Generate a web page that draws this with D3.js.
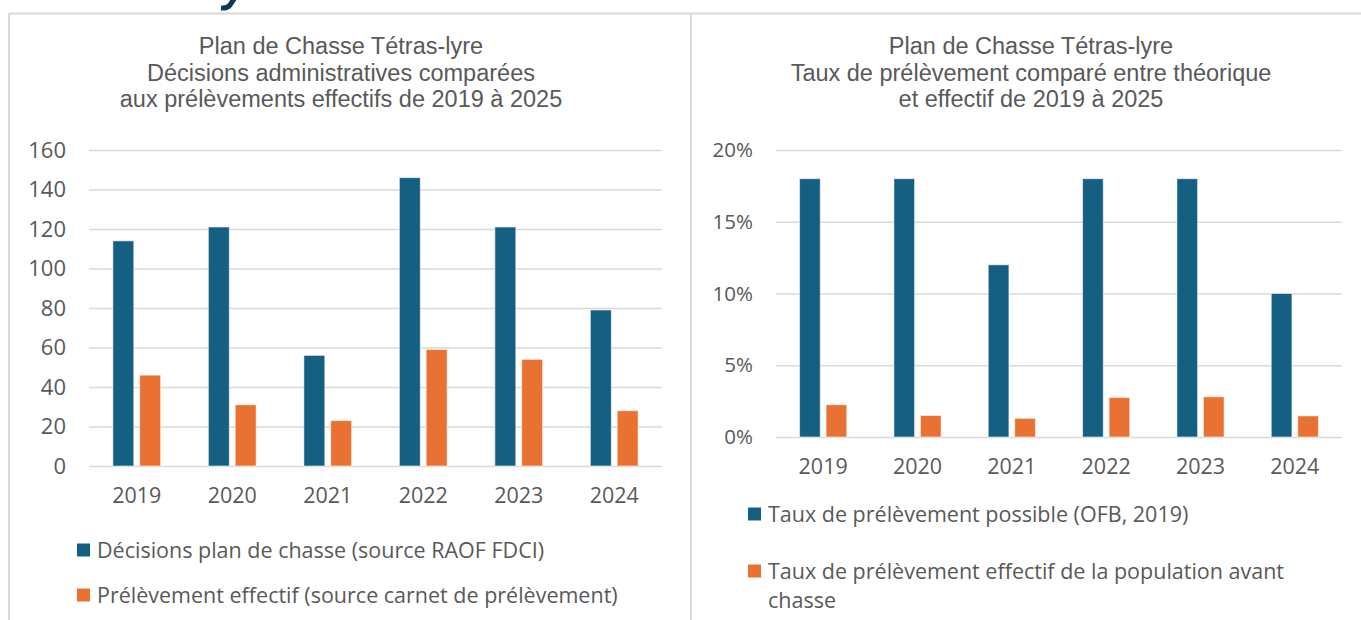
<!DOCTYPE html>
<html lang="fr">
<head>
<meta charset="utf-8">
<title>Plan de Chasse Tétras-lyre</title>
<script src="https://cdn.jsdelivr.net/npm/d3@7"></script>
<style>
  body { margin: 0; background: #fff; }
  svg { display: block; }
  .title { font-family: "Liberation Sans", Arial, sans-serif; font-size: 23.5px; fill: #595959; }
  .tick text, .lbl { font-family: "Open Sans", Roboto, sans-serif; fill: #595959; }
</style>
</head>
<body>
<script>
// --- data ---
var years = ["2019", "2020", "2021", "2022", "2023", "2024"];

var decisions = [114, 121, 56, 146, 121, 79];
var prelevements = [46, 31, 23, 59, 54, 28];

var tauxPossible = [0.18, 0.18, 0.12, 0.18, 0.18, 0.10];
var tauxEffectif = [0.0225, 0.015, 0.013, 0.0275, 0.028, 0.0147];

var leftTicks = [0, 20, 40, 60, 80, 100, 120, 140, 160];
var rightTicks = [0, 0.05, 0.10, 0.15, 0.20];

var leftTitle = ["Plan de Chasse Tétras-lyre",
                 "Décisions administratives comparées",
                 "aux prélèvements effectifs de 2019 à 2025"];
var rightTitle = ["Plan de Chasse Tétras-lyre",
                  "Taux de prélèvement comparé entre théorique",
                  "et effectif de 2019 à 2025"];

var leftSeries = ["Décisions plan de chasse (source RAOF FDCI)",
                  "Prélèvement effectif (source carnet de prélèvement)"];
var rightSeries = ["Taux de prélèvement possible (OFB, 2019)",
                   ["Taux de prélèvement effectif de la population avant", "chasse"]];

var blue = "#156082", orange = "#E97132";
var grid = "#d9d9d9";

var W = 1361, H = 620;
var svg = d3.select("body").append("svg").attr("width", W).attr("height", H);

// frame lines (panel borders)
svg.append("line").attr("x1", 9).attr("x2", W).attr("y1", 13.5).attr("y2", 13.5)
   .attr("stroke", grid).attr("stroke-width", 2);
svg.append("line").attr("x1", 9).attr("x2", 9).attr("y1", 13).attr("y2", H)
   .attr("stroke", grid).attr("stroke-width", 2);
svg.append("line").attr("x1", 691).attr("x2", 691).attr("y1", 13).attr("y2", H)
   .attr("stroke", grid).attr("stroke-width", 2);

// tail of a page heading letter cut off at the top edge
svg.append("path").attr("d", "M236,-4 L230,5 Q227,8.5 221,8")
   .attr("fill", "none").attr("stroke", "#0e3a5a").attr("stroke-width", 5);

function drawChart(o) {
  var g = svg.append("g");

  g.append("text").attr("class", "title").attr("text-anchor", "middle")
    .selectAll("tspan").data(o.title).join("tspan")
    .attr("x", o.titleX).attr("y", function (d, i) { return 54 + i * 26.5; })
    .text(function (d) { return d; });

  var y = d3.scaleLinear().domain([0, o.max]).range([o.y0, 150]);
  var x0 = d3.scaleBand().domain(years).range([o.left, o.right])
    .paddingInner(0.5).paddingOuter(0.25);
  var x1 = d3.scaleBand().domain([0, 1]).range([0, x0.bandwidth()]).paddingInner(0.22);

  // gridlines + y labels
  var yAxis = d3.axisLeft(y).tickValues(o.ticks).tickFormat(o.fmt)
    .tickSize(-(o.right - o.left)).tickPadding(o.left - o.labelRight);
  var ya = g.append("g").attr("transform", "translate(" + o.left + ",0)").call(yAxis);
  ya.select(".domain").remove();
  ya.selectAll(".tick line").attr("stroke", grid).attr("stroke-width", 1.5);
  ya.selectAll(".tick text").attr("font-size", o.yFont);

  // bars
  var rows = years.map(function (yr, i) { return { year: yr, vals: [o.a[i], o.b[i]] }; });
  var grp = g.selectAll(".grp").data(rows).join("g")
    .attr("transform", function (d) { return "translate(" + x0(d.year) + ",0)"; });
  grp.selectAll("rect").data(function (d) { return d.vals; }).join("rect")
    .attr("x", function (d, i) { return x1(i); })
    .attr("width", x1.bandwidth())
    .attr("y", function (d) { return y(d); })
    .attr("height", function (d) { return y(0) - y(d); })
    .attr("fill", function (d, i) { return i === 0 ? blue : orange; })
    .attr("stroke", "rgba(255,255,255,0.55)").attr("stroke-width", 1);

  // x labels
  var xAxis = d3.axisBottom(x0).tickSize(0).tickPadding(o.xPad);
  var xa = g.append("g").attr("transform", "translate(0," + o.y0 + ")").call(xAxis);
  xa.select(".domain").remove();
  xa.selectAll(".tick text").attr("font-size", 21.5);

  // legend
  var lg = g.selectAll(".leg").data(o.series).join("g")
    .attr("transform", function (d, i) { return "translate(" + o.legX + "," + o.legY[i] + ")"; });
  lg.append("rect").attr("x", 0).attr("y", -6.5).attr("width", 13).attr("height", 13)
    .attr("fill", function (d, i) { return i === 0 ? blue : orange; });
  lg.append("text").attr("class", "lbl").attr("font-size", 21.5)
    .selectAll("tspan").data(function (d) { return Array.isArray(d) ? d : [d]; }).join("tspan")
    .attr("x", 20).attr("y", function (d, i) { return 7.5 + i * 29; })
    .text(function (d) { return d; });
}

drawChart({
  title: leftTitle, titleX: 341,
  max: 160, ticks: leftTicks, fmt: d3.format("d"), yFont: 22,
  left: 89, right: 662, y0: 466, labelRight: 66, xPad: 22,
  a: decisions, b: prelevements,
  series: leftSeries, legX: 77, legY: [550, 595]
});

drawChart({
  title: rightTitle, titleX: 1031,
  max: 0.20, ticks: rightTicks, fmt: d3.format(".0%"), yFont: 20.5,
  left: 776, right: 1342, y0: 437, labelRight: 753, xPad: 21.5,
  a: tauxPossible, b: tauxEffectif,
  series: rightSeries, legX: 748, legY: [514, 571]
});
</script>
</body>
</html>
